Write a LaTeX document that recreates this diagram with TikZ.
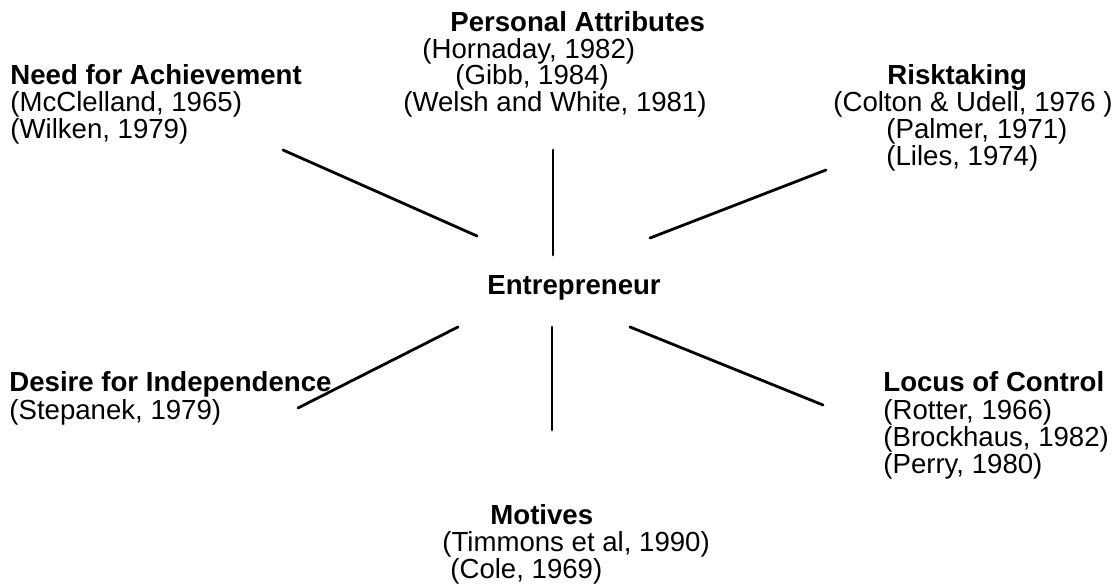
\documentclass[tikz,border=0pt]{standalone}
\usepackage{fontspec}
\setmainfont{Liberation Sans}
\usetikzlibrary{positioning}

\begin{document}
\begin{tikzpicture}[x=0.5pt, y=-0.5pt,
  head/.style={font=\fontsize{13.8}{16}\selectfont\bfseries, anchor=base west, inner sep=0pt},
  cite/.style={font=\fontsize{13.8}{16}\selectfont, anchor=base west, inner sep=0pt},
  spoke/.style={line width=1.4pt, line cap=round}]
\useasboundingbox (0,0) rectangle (1120,587);

% centre
\node[head] (ent) at (487,295) {Entrepreneur};

% personal attributes (top)
\node[head] (pa) at (450,32) {Personal Attributes};
\node[cite] (pa1) at (422,59) {(Hornaday, 1982)};
\node[cite] (pa2) at (455,85) {(Gibb, 1984)};
\node[cite] (pa3) at (403,112) {(Welsh and White, 1981)};

% need for achievement (top left)
\node[head] (na) at (10,85) {Need for Achievement};
\node[cite] (na1) at (10,112) {(McClelland, 1965)};
\node[cite] (na2) at (10,139) {(Wilken, 1979)};

% risktaking (top right)
\node[head] (rt) at (887,85) {Risktaking};
\node[cite] (rt1) at (833,112) {(Colton \& Udell, 1976 )};
\node[cite] (rt2) at (886,139) {(Palmer, 1971)};
\node[cite] (rt3) at (886,166) {(Liles, 1974)};

% desire for independence (bottom left)
\node[head] (di) at (9,392) {Desire for Independence};
\node[cite] (di1) at (9,420) {(Stepanek, 1979)};

% locus of control (bottom right)
\node[head] (lc) at (883,392) {Locus of Control};
\node[cite] (lc1) at (883,420) {(Rotter, 1966)};
\node[cite] (lc2) at (883,447) {(Brockhaus, 1982)};
\node[cite] (lc3) at (883,474) {(Perry, 1980)};

% motives (bottom)
\node[head] (mo) at (490,525) {Motives};
\node[cite] (mo1) at (442,552) {(Timmons et al, 1990)};
\node[cite] (mo2) at (450,579) {(Cole, 1969)};

% spoke ends
\coordinate (naout) at (283,150);
\coordinate (nain)  at (477,236);
\coordinate (paout) at (553,150);
\coordinate (pain)  at (553,255);
\coordinate (rtout) at (826,170);
\coordinate (rtin)  at (650,238);
\coordinate (diout) at (298,408);
\coordinate (diin)  at (458,327);
\coordinate (moout) at (552,430);
\coordinate (moin)  at (552,327);
\coordinate (lcout) at (823,405);
\coordinate (lcin)  at (630,327);

\draw[spoke] (naout) -- (nain);
\draw[spoke] (paout) -- (pain);
\draw[spoke] (rtout) -- (rtin);
\draw[spoke] (diout) -- (diin);
\draw[spoke] (moout) -- (moin);
\draw[spoke] (lcout) -- (lcin);
\end{tikzpicture}
\end{document}
